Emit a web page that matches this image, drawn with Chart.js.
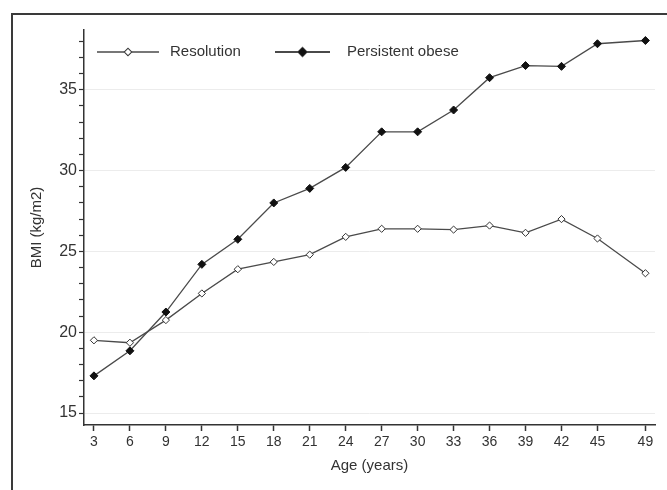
<!DOCTYPE html>
<html lang="en">
<head>
  <meta charset="UTF-8">
  <title>BMI by age</title>
  <style>
    body { margin: 0; background: #fff; }
    .wrap { position: relative; width: 667px; height: 490px; overflow: hidden; }
    .frame { position: absolute; left: 11px; top: 13px; width: 700px; height: 520px; border: 2px solid #3a3a3a; box-sizing: border-box; }
    canvas { position: absolute; left: 0; top: 0; }
  </style>
</head>
<body>
  <div class="wrap">
    <div class="frame"></div>
    <canvas id="myChart" width="667" height="490"></canvas>
  </div>

<script src="https://cdn.jsdelivr.net/npm/chart.js"></script>
<script>
  var ages = [3, 6, 9, 12, 15, 18, 21, 24, 27, 30, 33, 36, 39, 42, 45, 49];
  var resolucao = [19.5, 19.35, 20.75, 22.4, 23.9, 24.35, 24.8, 25.9, 26.4, 26.4, 26.35, 26.6, 26.15, 27.0, 25.8, 23.65];
  var persistente = [17.3, 18.85, 21.25, 24.2, 25.75, 28.0, 28.9, 30.2, 32.4, 32.4, 33.75, 35.75, 36.5, 36.45, 37.85, 38.05];
  var xTicks = [3, 6, 9, 12, 15, 18, 21, 24, 27, 30, 33, 36, 39, 42, 45, 49];
  var yTicks = [15, 16, 17, 18, 19, 20, 21, 22, 23, 24, 25, 26, 27, 28, 29, 30, 31, 32, 33, 34, 35, 36, 37, 38];
  var seriesNames = ['Resolution', 'Persistent obese'];

  var familia = 'Liberation Sans, Arial, sans-serif';
  var fonte = { family: familia, size: 15 };

  function pontos(arr) {
    return ages.map(function (a, i) { return { x: a, y: arr[i] }; });
  }

  // legenda dentro da area do grafico: linha + marcador + texto
  var legendaDentro = {
    id: 'legendaDentro',
    afterDraw: function (chart) {
      var ctx = chart.ctx;
      var area = chart.chartArea;
      var y = area.top + 22;
      var itens = [
        { x0: area.left + 13, x1: area.left + 75, tx: area.left + 86 },
        { x0: area.left + 191, x1: area.left + 246, tx: area.left + 263 }
      ];
      ctx.save();
      chart.data.datasets.forEach(function (ds, i) {
        var it = itens[i];
        ctx.strokeStyle = ds.borderColor;
        ctx.lineWidth = i == 1 ? 2 : 1.3;
        ctx.beginPath();
        ctx.moveTo(it.x0, y);
        ctx.lineTo(it.x1, y);
        ctx.stroke();
        Chart.helpers.drawPoint(ctx, {
          pointStyle: 'rectRot',
          radius: ds.pointRadius,
          borderWidth: ds.pointBorderWidth
        }, (it.x0 + it.x1) / 2, y);
        ctx.fillStyle = ds.pointBackgroundColor;
        ctx.strokeStyle = ds.pointBorderColor;
        ctx.lineWidth = ds.pointBorderWidth;
        ctx.fill();
        ctx.stroke();
        ctx.fillStyle = '#333';
        ctx.font = '15px ' + familia;
        ctx.textBaseline = 'middle';
        ctx.fillText(ds.label, it.tx, y);
      });
      ctx.restore();
    }
  };

  const ctx = document.getElementById('myChart');
  new Chart(ctx, {
    type: 'line',
    data: {
      datasets: [{
        label: seriesNames[0],
        data: pontos(resolucao),
        borderColor: '#4a4a4a',
        borderWidth: 1.3,
        pointStyle: 'rectRot',
        pointRadius: 3.6,
        pointBorderWidth: 1,
        pointBackgroundColor: '#ffffff',
        pointBorderColor: '#333333'
      },
      {
        label: seriesNames[1],
        data: pontos(persistente),
        borderColor: '#4a4a4a',
        borderWidth: 1.3,
        pointStyle: 'rectRot',
        pointRadius: 4,
        pointBorderWidth: 1,
        pointBackgroundColor: '#111111',
        pointBorderColor: '#111111'
      }]
    },
    plugins: [legendaDentro],
    options: {
      responsive: false,
      animation: false,
      layout: { padding: { top: 30, right: 12, left: 0, bottom: 0 } },
      plugins: {
        legend: { display: false },
        tooltip: { enabled: false }
      },
      scales: {
        x: {
          type: 'linear',
          min: 2.17,
          max: 49.8,
          afterBuildTicks: function (scale) {
            scale.ticks = xTicks.map(function (v) { return { value: v }; });
          },
          afterFit: function (scale) { scale.height = 65; },
          grid: { drawOnChartArea: false, tickLength: 6, tickColor: '#333', tickWidth: 1.5 },
          border: { color: '#333', width: 1.5 },
          ticks: { color: '#333', font: { family: familia, size: 14 }, padding: 3, autoSkip: false, maxRotation: 0 },
          title: { display: true, text: 'Age (years)', color: '#333', font: fonte, padding: { top: 0, bottom: 15 } }
        },
        y: {
          min: 14.26,
          max: 38.7,
          afterBuildTicks: function (scale) {
            scale.ticks = yTicks.map(function (v) { return { value: v }; });
          },
          afterFit: function (scale) { scale.width = 84; },
          grid: {
            color: function (c) { return c.tick && c.tick.value % 5 === 0 ? '#ececec' : 'rgba(0,0,0,0)'; },
            tickLength: 5,
            tickColor: '#333',
            tickWidth: 1.2
          },
          border: { color: '#333', width: 1.5 },
          ticks: {
            color: '#333',
            font: { family: familia, size: 16 },
            padding: 2,
            autoSkip: false,
            callback: function (v) { return v % 5 === 0 ? v : ''; }
          },
          title: { display: true, text: 'BMI (kg/m2)', color: '#333', font: fonte, padding: { top: 28, bottom: 0 } }
        }
      }
    }
  });
</script>
</body>
</html>
